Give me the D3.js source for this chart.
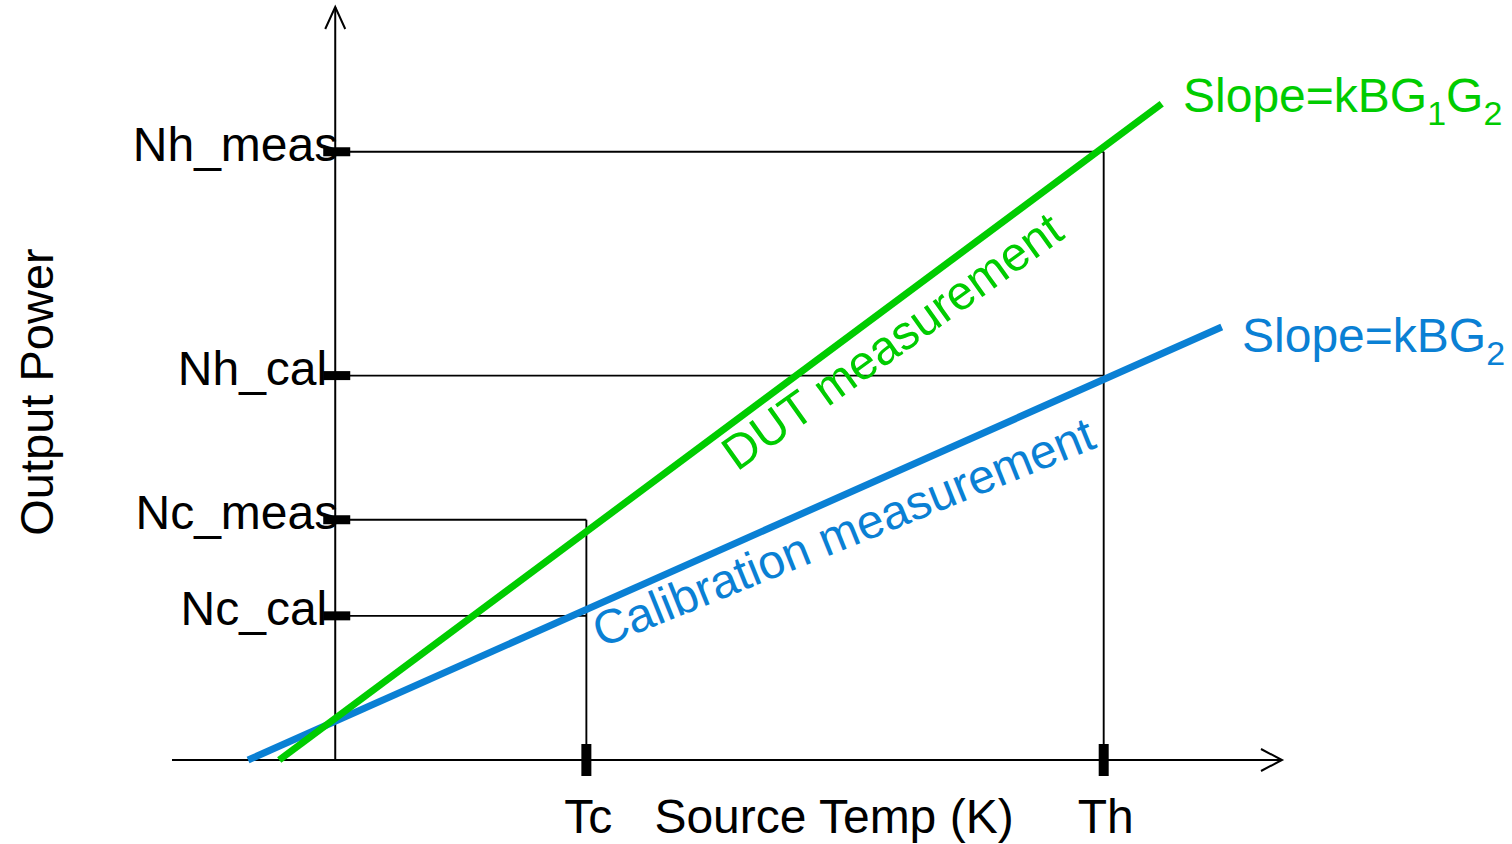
<!DOCTYPE html>
<html>
<head>
<meta charset="utf-8">
<script src="https://cdn.jsdelivr.net/npm/d3@7"></script>
<style>
  html, body { margin: 0; padding: 0; background: #fff; }
  svg { display: block; }
  text { font-family: "Liberation Sans", Arial, sans-serif; }
</style>
</head>
<body>
<svg id="chart" width="1512" height="844"></svg>
<script>
// Source temperature (arbitrary units, 0 at the power axis)
const tempTicks = [
  { name: "Tc", value: 100 },
  { name: "Th", value: 306 }
];
const tempExtent = [-65, 377];

// Output power levels (arbitrary units)
const powerLevels = [
  { name: "Nh_meas", value: 100,  temp: "Th" },
  { name: "Nh_cal",  value: 63.2, temp: "Th" },
  { name: "Nc_meas", value: 39.5, temp: "Tc" },
  { name: "Nc_cal",  value: 23.7, temp: "Tc" }
];
const powerExtent = [0, 123.8];

// Y-factor lines: [temp, power] end points
const dutLine = [[-22.3, 0], [329.1, 107.9]];
const calLine = [[-34.7, 0], [353.0, 71.2]];

const GREEN = "#00cc00";
const BLUE = "#0a80d4";

const svg = d3.select("#chart");

const x = d3.scaleLinear().domain(tempExtent).range([172, 1282]);
const y = d3.scaleLinear().domain(powerExtent).range([760, 7]);
const tempOf = n => tempTicks.find(t => t.name === n).value;

// guide lines from the power axis to the operating points
const guides = svg.append("g").attr("stroke", "#000").attr("stroke-width", 1.9).attr("fill", "none");
powerLevels.forEach(p => {
  guides.append("line")
    .attr("x1", x(0)).attr("x2", x(tempOf(p.temp)))
    .attr("y1", y(p.value)).attr("y2", y(p.value));
});
tempTicks.forEach(t => {
  const top = d3.max(powerLevels.filter(p => p.temp === t.name), p => p.value);
  guides.append("line")
    .attr("x1", x(t.value)).attr("x2", x(t.value))
    .attr("y1", y(0)).attr("y2", y(top));
});

// axes with open arrow heads
const axes = svg.append("g").attr("stroke", "#000").attr("stroke-width", 2).attr("fill", "none");
axes.append("line").attr("x1", x(tempExtent[0])).attr("x2", x(tempExtent[1])).attr("y1", y(0)).attr("y2", y(0));
axes.append("line").attr("x1", x(0)).attr("x2", x(0)).attr("y1", y(0)).attr("y2", y(powerExtent[1]));
const xe = x(tempExtent[1]), ye = y(0);
axes.append("path").attr("d", `M${xe - 21},${ye - 11}L${xe},${ye}L${xe - 21},${ye + 11}`);
const xa = x(0), ya = y(powerExtent[1]);
axes.append("path").attr("d", `M${xa - 10},${ya + 22}L${xa},${ya}L${xa + 10},${ya + 22}`);

// measurement lines
const line = d3.line().x(d => x(d[0])).y(d => y(d[1]));
svg.append("path").datum(calLine).attr("d", line)
  .attr("stroke", BLUE).attr("stroke-width", 7).attr("fill", "none");
svg.append("path").datum(dutLine).attr("d", line)
  .attr("stroke", GREEN).attr("stroke-width", 7).attr("fill", "none");

// thick tick marks
svg.append("g").selectAll("rect").data(tempTicks).join("rect")
  .attr("x", d => x(d.value) - 5).attr("y", y(0) - 16)
  .attr("width", 10).attr("height", 32).attr("fill", "#000");
svg.append("g").selectAll("rect").data(powerLevels).join("rect")
  .attr("x", x(0) - 12).attr("y", d => y(d.value) - 4.5)
  .attr("width", 27).attr("height", 9).attr("fill", "#000");

// tick labels ("meas" labels overlap the tick a little more than "cal" ones)
const FS = 48;
svg.append("g").selectAll("text").data(powerLevels).join("text")
  .attr("x", d => x(0) + (d.name.endsWith("meas") ? 3 : -8))
  .attr("y", d => y(d.value) + 9)
  .attr("text-anchor", "end").attr("font-size", FS).attr("fill", "#000")
  .text(d => d.name);
svg.append("g").selectAll("text").data(tempTicks).join("text")
  .attr("x", d => x(d.value) + 2).attr("y", 833)
  .attr("text-anchor", "middle").attr("font-size", FS).attr("fill", "#000")
  .text(d => d.name);

// axis titles
svg.append("text").attr("x", 834).attr("y", 833).attr("text-anchor", "middle")
  .attr("font-size", FS).attr("fill", "#000").text("Source Temp (K)");
svg.append("text").attr("transform", "translate(53,392) rotate(-90)").attr("text-anchor", "middle")
  .attr("font-size", 47).attr("fill", "#000").text("Output Power");

// line labels
svg.append("text").attr("transform", "translate(737,472) rotate(-35.5)")
  .attr("font-size", FS).attr("fill", GREEN).text("DUT measurement");
svg.append("text").attr("transform", "translate(601,648) rotate(-22)")
  .attr("font-size", FS).attr("fill", BLUE).text("Calibration measurement");

// slope annotations
const s1 = svg.append("text").attr("x", 1183).attr("y", 112).attr("font-size", FS).attr("fill", GREEN);
s1.append("tspan").text("Slope=kBG");
s1.append("tspan").attr("font-size", 34).attr("dy", 13).text("1");
s1.append("tspan").attr("dy", -13).text("G");
s1.append("tspan").attr("font-size", 34).attr("dy", 13).text("2");

const s2 = svg.append("text").attr("x", 1242).attr("y", 352).attr("font-size", FS).attr("fill", BLUE);
s2.append("tspan").text("Slope=kBG");
s2.append("tspan").attr("font-size", 34).attr("dy", 13).text("2");
</script>
</body>
</html>
